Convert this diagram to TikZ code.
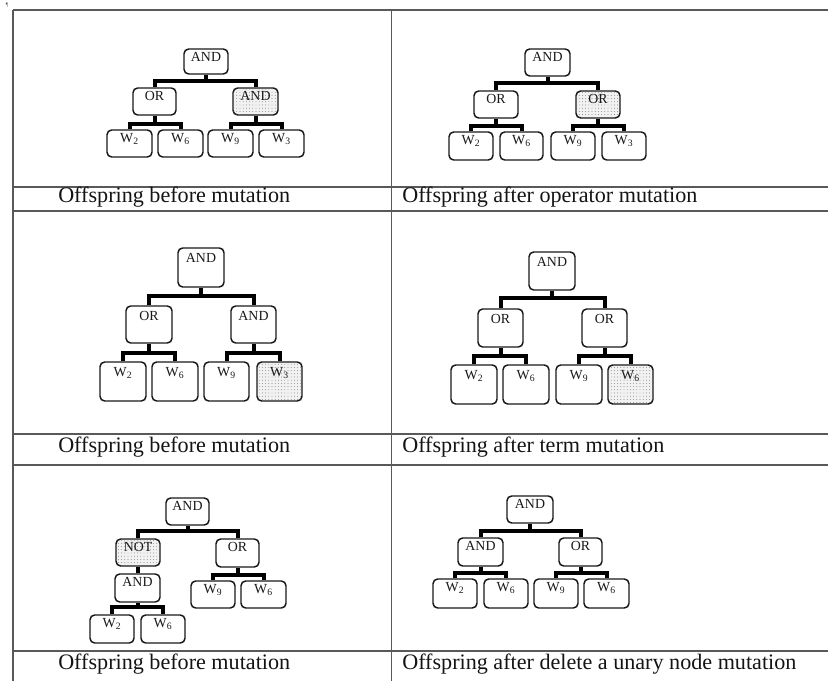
\documentclass[tikz,border=0pt]{standalone}
\usepackage{fontspec}
\setmainfont{Liberation Serif}
\usetikzlibrary{calc,patterns.meta}
\newcommand\toff{13}
\newcommand\TB[7]{%
  \node[tbox,#7,minimum width={(#4-#2)*0.75pt},minimum height={(#5-#3)*0.75pt}] (#1) at ({(#2+#4)/2},{(#3+#5)/2}) {};
  \node[lbl] (#1t) at ($(#1.north)+(0,\toff)$) {#6};
}
\tikzset{
  tbox/.style={draw=black!90, line width=1.1pt, rounded corners=3.5pt, inner sep=0pt, fill=white},
  shaded/.style={fill=black!5, postaction={pattern={Dots[distance=2.4pt,radius=0.33pt]}, pattern color=black!60}},
  lbl/.style={anchor=base, inner sep=0pt, font=\fontsize{10.4pt}{12pt}\selectfont, text=black!90},
  conn/.style={line width=3pt, black, line join=miter},
  tline/.style={draw=black!65, line width=0.9pt},
  captxt/.style={anchor=base west, inner sep=0pt, font=\fontsize{16.6pt}{19pt}\selectfont, text=black!92},
}
\begin{document}
\begin{tikzpicture}[x=0.75pt,y=-0.75pt]
\useasboundingbox (0,0) rectangle (828,681);
% table
\foreach \yy in {10,187,211,434,465,651} \draw[tline] (13,\yy) -- (828,\yy);
\draw[tline] (13,10) -- (13,681);
\draw[tline] (391.5,10) -- (391.5,681);
\node[inner sep=0pt, font=\fontsize{4pt}{4pt}\selectfont, text=black!70] (para) at (7,5) {\P};
% captions
\node[captxt] (cap1) at (58,203) {Offspring before mutation};
\node[captxt] (cap2) at (402,203) {Offspring after operator mutation};
\node[captxt] (cap3) at (58,452) {Offspring before mutation};
\node[captxt] (cap4) at (402,452) {Offspring after term mutation};
\node[captxt] (cap5) at (58,669.5) {Offspring before mutation};
\node[captxt] (cap6) at (402,669.5) {Offspring after delete a unary node mutation};

% ---------- panel 1
\TB{p1r}{184}{49}{228}{74}{AND}{}
\TB{p1a}{133}{88}{176}{115}{OR}{}
\TB{p1b}{233}{88}{278}{115}{AND}{shaded}
\TB{p1w1}{107}{130}{152}{157}{W\textsubscript{2}}{}
\TB{p1w2}{158}{130}{203}{157}{W\textsubscript{6}}{}
\TB{p1w3}{208}{130}{253}{157}{W\textsubscript{9}}{}
\TB{p1w4}{259}{130}{304}{157}{W\textsubscript{3}}{}
\coordinate (p1b0) at (0,81);
\coordinate (p1b1) at (0,124);
\draw[conn] (p1r.south) -- (p1r.south |- p1b0);
\draw[conn] (p1a.north) -- (p1a.north |- p1b0) -- (p1b.north |- p1b0) -- (p1b.north);
\draw[conn] (p1a.south) -- (p1a.south |- p1b1);
\draw[conn] (p1w1.north) -- (p1w1.north |- p1b1) -- (p1w2.north |- p1b1) -- (p1w2.north);
\draw[conn] (p1b.south) -- (p1b.south |- p1b1);
\draw[conn] (p1w3.north) -- (p1w3.north |- p1b1) -- (p1w4.north |- p1b1) -- (p1w4.north);

% ---------- panel 2
\TB{p2r}{525}{49}{570}{76}{AND}{}
\TB{p2a}{474}{91}{518}{118}{OR}{}
\TB{p2b}{576}{91}{620}{118}{OR}{shaded}
\TB{p2w1}{449}{132}{493}{160}{W\textsubscript{2}}{}
\TB{p2w2}{500}{132}{543}{160}{W\textsubscript{6}}{}
\TB{p2w3}{551}{132}{595}{160}{W\textsubscript{9}}{}
\TB{p2w4}{602}{132}{646}{160}{W\textsubscript{3}}{}
\coordinate (p2b0) at (0,83);
\coordinate (p2b1) at (0,126);
\draw[conn] (p2r.south) -- (p2r.south |- p2b0);
\draw[conn] (p2a.north) -- (p2a.north |- p2b0) -- (p2b.north |- p2b0) -- (p2b.north);
\draw[conn] (p2a.south) -- (p2a.south |- p2b1);
\draw[conn] (p2w1.north) -- (p2w1.north |- p2b1) -- (p2w2.north |- p2b1) -- (p2w2.north);
\draw[conn] (p2b.south) -- (p2b.south |- p2b1);
\draw[conn] (p2w3.north) -- (p2w3.north |- p2b1) -- (p2w4.north |- p2b1) -- (p2w4.north);

% ---------- panel 3
\renewcommand\toff{15}
\TB{p3r}{178}{248}{224}{287}{AND}{}
\TB{p3a}{126}{306}{172}{343}{OR}{}
\TB{p3b}{231}{306}{276}{343}{AND}{}
\TB{p3w1}{100}{362}{146}{401}{W\textsubscript{2}}{}
\TB{p3w2}{152}{362}{198}{401}{W\textsubscript{6}}{}
\TB{p3w3}{204}{362}{249}{401}{W\textsubscript{9}}{}
\TB{p3w4}{257}{362}{302}{401}{W\textsubscript{3}}{shaded}
\coordinate (p3b0) at (0,296);
\coordinate (p3b1) at (0,353);
\draw[conn] (p3r.south) -- (p3r.south |- p3b0);
\draw[conn] (p3a.north) -- (p3a.north |- p3b0) -- (p3b.north |- p3b0) -- (p3b.north);
\draw[conn] (p3a.south) -- (p3a.south |- p3b1);
\draw[conn] (p3w1.north) -- (p3w1.north |- p3b1) -- (p3w2.north |- p3b1) -- (p3w2.north);
\draw[conn] (p3b.south) -- (p3b.south |- p3b1);
\draw[conn] (p3w3.north) -- (p3w3.north |- p3b1) -- (p3w4.north |- p3b1) -- (p3w4.north);

% ---------- panel 4
\TB{p4r}{529}{252}{575}{290}{AND}{}
\TB{p4a}{478}{309}{523}{347}{OR}{}
\TB{p4b}{582}{309}{627}{347}{OR}{}
\TB{p4w1}{451}{365}{497}{404}{W\textsubscript{2}}{}
\TB{p4w2}{503}{365}{549}{404}{W\textsubscript{6}}{}
\TB{p4w3}{556}{365}{602}{404}{W\textsubscript{9}}{}
\TB{p4w4}{608}{365}{653}{404}{W\textsubscript{6}}{shaded}
\coordinate (p4b0) at (0,298);
\coordinate (p4b1) at (0,356);
\draw[conn] (p4r.south) -- (p4r.south |- p4b0);
\draw[conn] (p4a.north) -- (p4a.north |- p4b0) -- (p4b.north |- p4b0) -- (p4b.north);
\draw[conn] (p4a.south) -- (p4a.south |- p4b1);
\draw[conn] (p4w1.north) -- (p4w1.north |- p4b1) -- (p4w2.north |- p4b1) -- (p4w2.north);
\draw[conn] (p4b.south) -- (p4b.south |- p4b1);
\draw[conn] (p4w3.north) -- (p4w3.north |- p4b1) -- (p4w4.north |- p4b1) -- (p4w4.north);

% ---------- panel 5
\renewcommand\toff{13}
\TB{p5r}{166}{498}{209}{525}{AND}{}
\TB{p5n}{116}{539}{160}{566}{NOT}{shaded}
\TB{p5b}{216}{539}{259}{567}{OR}{}
\TB{p5a}{115}{574}{160}{602}{AND}{}
\TB{p5w1}{90}{615}{134}{643}{W\textsubscript{2}}{}
\TB{p5w2}{141}{615}{185}{643}{W\textsubscript{6}}{}
\TB{p5w3}{191}{581}{235}{608}{W\textsubscript{9}}{}
\TB{p5w4}{241}{581}{286}{608}{W\textsubscript{6}}{}
\coordinate (p5b0) at (0,531);
\coordinate (p5b1) at (0,607);
\coordinate (p5b2) at (0,575);
\draw[conn] (p5r.south) -- (p5r.south |- p5b0);
\draw[conn] (p5n.north) -- (p5n.north |- p5b0) -- (p5b.north |- p5b0) -- (p5b.north);
\draw[conn] (p5n.south) -- (p5n.south |- p5a.north);
\draw[conn] (p5a.south) -- (p5a.south |- p5b1);
\draw[conn] (p5w1.north) -- (p5w1.north |- p5b1) -- (p5w2.north |- p5b1) -- (p5w2.north);
\draw[conn] (p5b.south) -- (p5b.south |- p5b2);
\draw[conn] (p5w3.north) -- (p5w3.north |- p5b2) -- (p5w4.north |- p5b2) -- (p5w4.north);

% ---------- panel 6
\TB{p6r}{507}{496}{553}{523}{AND}{}
\TB{p6a}{458}{538}{503}{566}{AND}{}
\TB{p6b}{559}{538}{602}{566}{OR}{}
\TB{p6w1}{433}{579}{477}{608}{W\textsubscript{2}}{}
\TB{p6w2}{484}{579}{528}{608}{W\textsubscript{6}}{}
\TB{p6w3}{534}{579}{578}{608}{W\textsubscript{9}}{}
\TB{p6w4}{584}{579}{629}{608}{W\textsubscript{6}}{}
\coordinate (p6b0) at (0,531);
\coordinate (p6b1) at (0,573);
\draw[conn] (p6r.south) -- (p6r.south |- p6b0);
\draw[conn] (p6a.north) -- (p6a.north |- p6b0) -- (p6b.north |- p6b0) -- (p6b.north);
\draw[conn] (p6a.south) -- (p6a.south |- p6b1);
\draw[conn] (p6w1.north) -- (p6w1.north |- p6b1) -- (p6w2.north |- p6b1) -- (p6w2.north);
\draw[conn] (p6b.south) -- (p6b.south |- p6b1);
\draw[conn] (p6w3.north) -- (p6w3.north |- p6b1) -- (p6w4.north |- p6b1) -- (p6w4.north);
\end{tikzpicture}
\end{document}
